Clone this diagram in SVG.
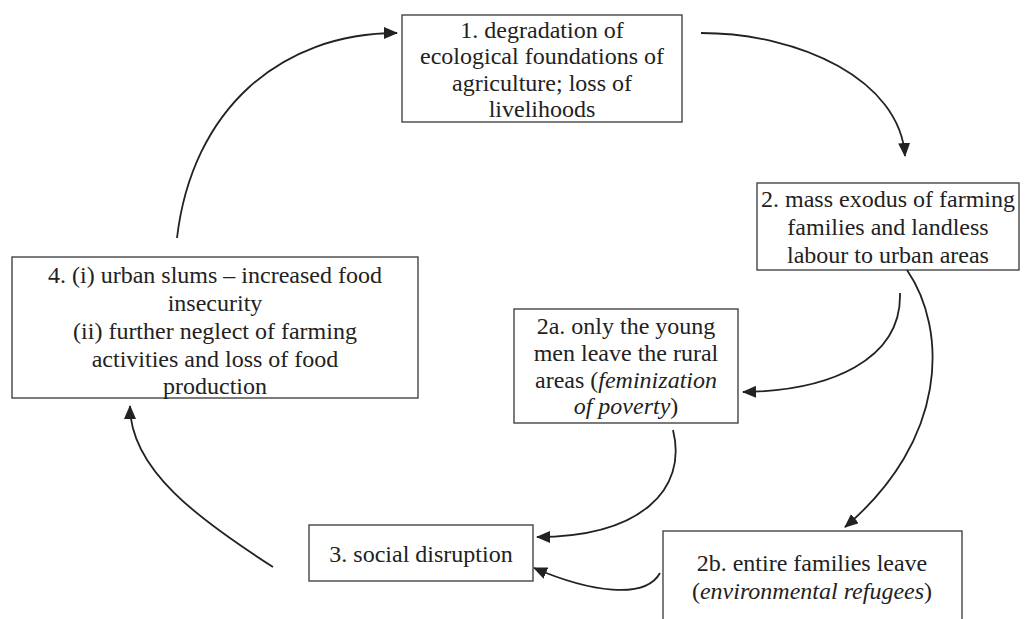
<svg xmlns="http://www.w3.org/2000/svg" width="1028" height="619" viewBox="0 0 1028 619">
<defs>
<style>
.box{fill:#fff;stroke:#444;stroke-width:1.4}
.t{font-family:Liberation Serif;font-size:24px;fill:#222;text-anchor:middle}
.c{fill:none;stroke:#222;stroke-width:1.8}
</style>
<marker id="ah" viewBox="0 0 14 12" refX="13" refY="6" markerWidth="14" markerHeight="12" markerUnits="userSpaceOnUse" orient="auto">
<path d="M0,0 L14,6 L0,12 Z" fill="#222"/>
</marker>
</defs>
<rect width="1028" height="619" fill="#fff"/>
<g id="n1">
<rect class="box" x="402" y="15" width="280" height="107"/>
<text class="t" font-family="Liberation Serif" x="542" y="38">1. degradation of</text>
<text class="t" font-family="Liberation Serif" x="542" y="64">ecological foundations of</text>
<text class="t" font-family="Liberation Serif" x="542" y="91">agriculture; loss of</text>
<text class="t" font-family="Liberation Serif" x="542" y="117">livelihoods</text>
</g>
<g id="n2">
<rect class="box" x="757" y="183" width="262" height="87"/>
<text class="t" font-family="Liberation Serif" x="888" y="207">2. mass exodus of farming</text>
<text class="t" font-family="Liberation Serif" x="888" y="235">families and landless</text>
<text class="t" font-family="Liberation Serif" x="888" y="263">labour to urban areas</text>
</g>
<g id="n2a">
<rect class="box" x="514" y="309" width="224" height="114"/>
<text class="t" font-family="Liberation Serif" x="626" y="334">2a. only the young</text>
<text class="t" font-family="Liberation Serif" x="626" y="361">men leave the rural</text>
<text class="t" font-family="Liberation Serif" x="626" y="388">areas (<tspan font-style="italic">feminization</tspan></text>
<text class="t" font-family="Liberation Serif" x="626" y="414"><tspan font-style="italic">of poverty</tspan>)</text>
</g>
<g id="n2b">
<rect class="box" x="663" y="531" width="299" height="100"/>
<text class="t" font-family="Liberation Serif" x="812" y="571">2b. entire families leave</text>
<text class="t" font-family="Liberation Serif" x="812" y="599">(<tspan font-style="italic">environmental refugees</tspan>)</text>
</g>
<g id="n3">
<rect class="box" x="309" y="525" width="224" height="56"/>
<text class="t" font-family="Liberation Serif" x="421" y="562">3. social disruption</text>
</g>
<g id="n4">
<rect class="box" x="12" y="257" width="406" height="141"/>
<text class="t" font-family="Liberation Serif" x="215" y="283">4. (i) urban slums &#8211; increased food</text>
<text class="t" font-family="Liberation Serif" x="215" y="311">insecurity</text>
<text class="t" font-family="Liberation Serif" x="215" y="339">(ii) further neglect of farming</text>
<text class="t" font-family="Liberation Serif" x="215" y="367">activities and loss of food</text>
<text class="t" font-family="Liberation Serif" x="215" y="394">production</text>
</g>
<g id="connectors">
<path class="c" d="M177,238 C192,110 280,33 397,33" marker-end="url(#ah)"/>
<path class="c" d="M701,33 C800,33 900,80 905,156" marker-end="url(#ah)"/>
<path class="c" d="M900,293 C902,360 830,391 743,392" marker-end="url(#ah)"/>
<path class="c" d="M907,270 C948,330 948,440 845,527" marker-end="url(#ah)"/>
<path class="c" d="M673,430 C688,490 640,537 537,537" marker-end="url(#ah)"/>
<path class="c" d="M660,573 C645,600 590,592 534,568" marker-end="url(#ah)"/>
<path class="c" d="M273,567 C200,520 130,470 130,406" marker-end="url(#ah)"/>
</g>
</svg>
